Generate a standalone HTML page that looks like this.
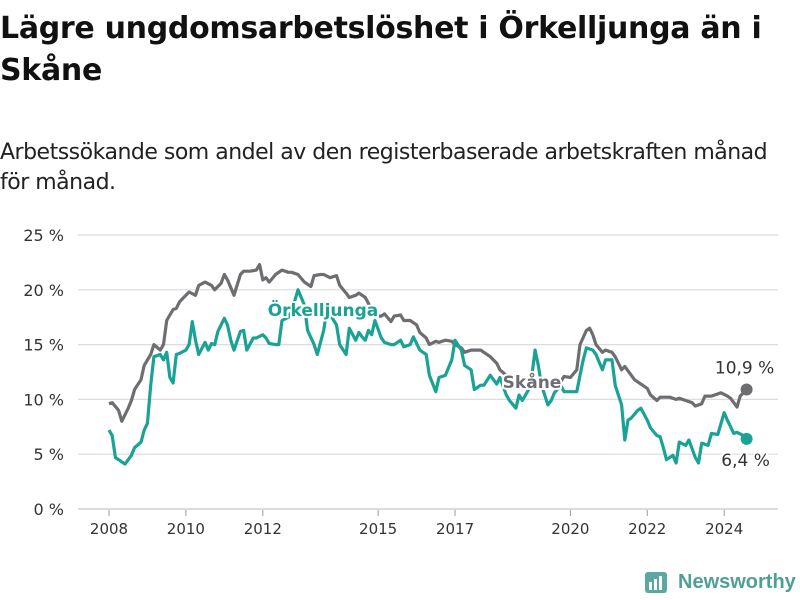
<!DOCTYPE html>
<html><head><meta charset="utf-8"><style>
body{margin:0;width:800px;height:600px;background:#fff;font-family:"Liberation Sans","DejaVu Sans",sans-serif;overflow:hidden;position:relative}
h1{position:absolute;left:0;top:8px;margin:0;font-size:30px;line-height:42px;font-weight:bold;color:#111;font-family:"DejaVu Sans","Liberation Sans",sans-serif;letter-spacing:-0.3px}
.sub{position:absolute;left:0;top:138px;font-size:22px;line-height:30px;color:#222;font-family:"DejaVu Sans","Liberation Sans",sans-serif;letter-spacing:-0.5px}
</style></head><body>
<h1>Lägre ungdomsarbetslöshet i Örkelljunga än i<br>Skåne</h1>
<div class="sub">Arbetssökande som andel av den registerbaserade arbetskraften månad<br>för månad.</div>
<svg id="chart" width="800" height="600" style="position:absolute;left:0;top:0"></svg>
<script>
const yTicks=[0,5,10,15,20,25];
const yTickLabels=["0 %","5 %","10 %","15 %","20 %","25 %"];
const xTickYears=[2008,2010,2012,2015,2017,2020,2022,2024];
const skaneMonths=[0,1,3,4,6,7,8,10,11,13,14,16,17,18,20,21,22,24,25,27,28,30,32,33,35,36,37,39,41,42,44,46,47,48,49,50,52,54,56,57,59,61,63,64,66,67,69,71,72,74,75,77,78,80,82,83,85,86,88,89,91,92,94,96,97,99,100,102,103,105,107,108,110,111,113,114,116,117,119,121,122,124,125,128,132,135,138,141,142,144,146,147,149,150,151,152,154,155,157,158,160,161,163,164,166,168,169,171,172,174,175,177,178,180,182,183,185,186,188,189,191,193,194,196,197,199];
const skaneValues=[9.6,9.7,9.0,8.0,9.2,9.9,10.9,11.8,13.1,14.1,15.0,14.5,15.0,17.2,18.2,18.3,18.9,19.5,19.8,19.5,20.4,20.7,20.4,20.0,20.6,21.4,20.9,19.5,21.4,21.7,21.7,21.8,22.3,20.9,21.1,20.7,21.4,21.8,21.6,21.6,21.4,20.7,20.3,21.3,21.4,21.4,21.1,21.3,20.4,19.7,19.3,19.5,19.7,19.3,18.2,17.6,17.6,17.8,17.1,17.6,17.7,17.2,17.2,16.8,16.1,15.6,15.0,15.3,15.2,15.4,15.3,15.0,14.7,14.3,14.5,14.5,14.5,14.3,13.9,13.3,12.7,12.2,11.8,11.3,11.0,11.3,11.5,11.6,12.1,12.0,12.7,15.0,16.3,16.5,15.9,15.0,14.3,14.5,14.3,13.9,12.7,13.0,12.2,11.8,11.4,11.0,10.4,9.9,10.2,10.2,10.2,10.0,10.1,9.9,9.7,9.4,9.6,10.3,10.3,10.4,10.6,10.3,10.1,9.3,10.3,10.9];
const orkMonths=[0,1,2,3,5,7,8,10,11,12,13,14,16,17,18,19,20,21,22,24,25,26,27,28,30,31,32,33,34,36,37,38,39,41,42,43,45,46,48,49,50,52,53,54,56,57,59,61,62,64,65,67,68,71,72,74,75,77,78,79,80,81,82,83,85,86,88,89,91,92,94,95,97,99,100,102,103,105,107,108,110,111,113,114,116,117,119,121,122,124,125,127,128,129,131,132,133,134,135,136,137,138,139,141,142,144,146,147,148,149,151,152,154,155,157,158,160,161,162,163,165,166,168,169,171,172,173,174,176,177,178,180,181,183,184,185,187,188,190,192,193,195,196,198,199];
const orkValues=[7.2,6.7,4.7,4.5,4.1,4.9,5.6,6.1,7.2,7.8,11.3,13.9,14.1,13.6,14.3,12.0,11.5,14.1,14.2,14.5,15.0,17.1,15.4,14.1,15.2,14.5,15.1,15.0,16.2,17.4,16.8,15.4,14.5,16.2,16.3,14.5,15.6,15.6,15.9,15.6,15.1,15.0,15.0,17.2,17.5,18.0,20.0,18.6,16.3,15.0,14.1,16.3,18.2,16.8,15.0,14.1,16.5,15.4,16.1,15.7,15.4,16.3,15.9,17.2,15.6,15.2,15.0,15.0,15.4,14.8,15.0,15.7,14.5,14.1,12.2,10.7,12.0,12.2,13.6,15.4,14.5,13.1,12.7,10.9,11.3,11.3,12.2,11.4,12.0,10.4,9.9,9.2,10.4,9.9,10.9,12.2,14.5,13.1,11.3,10.4,9.5,9.9,10.6,11.3,10.7,10.7,10.7,12.2,13.6,14.7,14.5,14.1,12.7,13.6,13.6,11.3,9.5,6.3,8.1,8.3,9.0,9.2,8.1,7.4,6.7,6.6,5.6,4.5,4.9,4.2,6.1,5.8,6.3,4.7,4.2,6.0,5.8,6.9,6.8,8.8,8.1,6.9,7.0,6.7,6.4];
const skaneLast="10,9 %", orkLast="6,4 %";

const NS="http://www.w3.org/2000/svg";
const svg=document.getElementById('chart');
const X=m=>109+m*3.204;
const Y=v=>509-v*10.96;
function el(t,a,p){const e=document.createElementNS(NS,t);for(const k in a)e.setAttribute(k,a[k]);(p||svg).appendChild(e);return e;}
yTicks.forEach((t,i)=>{
  const g=el('line',{x1:78,x2:778,y1:Y(t),y2:Y(t),stroke:t===0?'#cfcfcf':'#dcdcdc','stroke-width':t===0?1.5:1.2});
  
  
  const tx=el('text',{x:64,y:Y(t)+6,'text-anchor':'end','font-size':16,fill:'#333','font-family':'DejaVu Sans, sans-serif'});
  tx.textContent=yTickLabels[i];
  
  
});
xTickYears.forEach(yr=>{
  const x=X((yr-2008)*12);
  const tk=el('line',{x1:x,x2:x,y1:510,y2:516,stroke:'#999','stroke-width':1});
  
  
  const tx=el('text',{x:x,y:534,'text-anchor':'middle','font-size':15,fill:'#333','font-family':'DejaVu Sans, sans-serif'});
  tx.textContent=yr;
  
  
});
function line(ms,vs,color,name){
  const d=ms.map((m,i)=>(i?'L':'M')+X(m).toFixed(1)+','+Y(vs[i]).toFixed(1)).join('');
  const p=el('path',{d:d,fill:'none',stroke:color,'stroke-width':3.2,'stroke-linejoin':'round'});
  
  
  const n=ms.length-1;
  const c=el('circle',{cx:X(ms[n]),cy:Y(vs[n]),r:6,fill:color});
  
  
}
line(skaneMonths,skaneValues,'#6e6d72','skane-line');
line(orkMonths,orkValues,'#1aa296','orkelljunga-line');
function label(x,y,txt,color,name,weight){
  const t=el('text',{x:x,y:y,'text-anchor':'middle','font-size':17,'font-weight':weight||'bold',fill:color,stroke:'#fff','stroke-width':4,'paint-order':'stroke','font-family':'DejaVu Sans, sans-serif'});
  t.textContent=txt;
  
  
}
label(323,316,'Örkelljunga','#1aa296','orkelljunga-label');
label(532,388,'Skåne','#6e6d72','skane-label');
const n1=skaneMonths.length-1,n2=orkMonths.length-1;
label(X(skaneMonths[n1])-2,Y(skaneValues[n1])-16,skaneLast,'#333','skane-last-value','normal');
label(X(orkMonths[n2])-1,Y(orkValues[n2])+27,orkLast,'#333','orkelljunga-last-value','normal');
</script>
<div style="position:absolute;left:645px;top:570px;display:flex;align-items:center">
<svg width="24" height="24"><rect x="0" y="2" width="22" height="21" rx="3" fill="#5aa8a0"/><rect x="4" y="12" width="3" height="8" fill="#fff"/><rect x="9" y="9" width="3" height="11" fill="#fff"/><rect x="14" y="6" width="3" height="14" fill="#fff"/></svg>
<span style="margin-left:9px;font-size:20px;font-weight:bold;color:#4f9f97;font-family:'Liberation Sans',sans-serif">Newsworthy</span>
</div>
</body></html>
